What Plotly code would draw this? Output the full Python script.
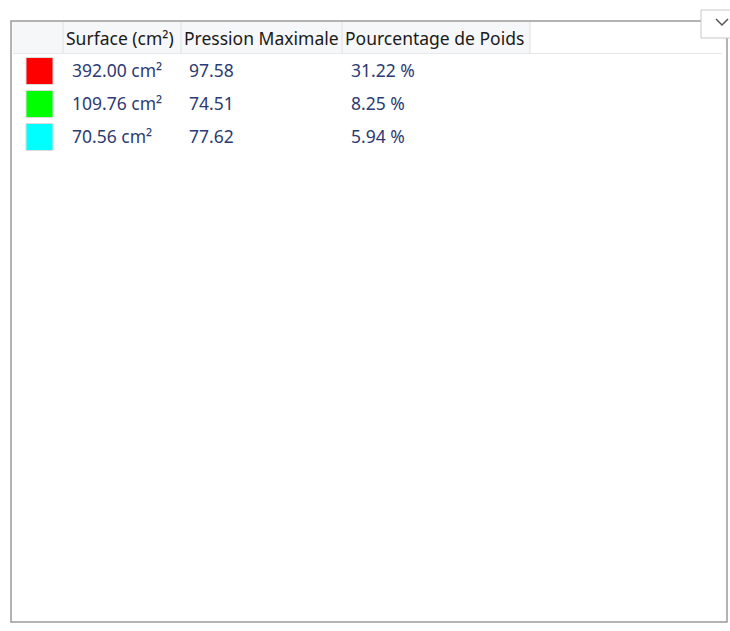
import plotly.graph_objects as go

headers = ["", "Surface (cm²)", "Pression Maximale", "Pourcentage de Poids"]
colors = ["#ff0000", "#00ff00", "#00ffff"]
surface = ["392.00 cm²", "109.76 cm²", "70.56 cm²"]
pression = ["97.58", "74.51", "77.62"]
pourcentage = ["31.22 %", "8.25 %", "5.94 %"]

W, H = 730, 631
FONT = "Noto Sans"

# column layout (pixels)
col_edges = [13, 63, 181, 342, 530]
text_x = [None, 72, 189, 351]
head_x = [None, 66, 184, 345]
row_y0, row_h = 73, 33
rows_y = [row_y0 + i * row_h for i in range(len(colors))]

fig = go.Figure()

# swatches
fig.add_trace(go.Scatter(
    x=[39.5] * len(colors), y=[y - 2 for y in rows_y], mode="markers",
    marker=dict(symbol="square", size=27, color=colors, line=dict(width=1, color="#dddddd")),
    hoverinfo="skip", showlegend=False))

# cell text
for col, vals in zip([1, 2, 3], [surface, pression, pourcentage]):
    fig.add_trace(go.Scatter(
        x=[text_x[col]] * len(vals), y=rows_y, mode="text", text=vals,
        textposition="middle right",
        textfont=dict(family=FONT, size=17.5, color="#2c3b72"),
        hoverinfo="skip", showlegend=False))

# header text
fig.add_trace(go.Scatter(
    x=head_x[1:], y=[41] * 3, mode="text", text=headers[1:],
    textposition="middle right",
    textfont=dict(family=FONT, size=17.5, color="#1a1a1a"),
    hoverinfo="skip", showlegend=False))

shapes = []
# outer frame
shapes.append(dict(type="rect", x0=11, x1=727, y0=21, y1=622, line=dict(color="#9a9a9a", width=1.5),
                   fillcolor="white", layer="below"))
# header background
shapes.append(dict(type="rect", x0=12.5, x1=col_edges[-1], y0=22, y1=53, line=dict(width=0),
                   fillcolor="#f6f7f8", layer="below"))
# header separators
for xe in col_edges[1:]:
    shapes.append(dict(type="line", x0=xe, x1=xe, y0=22, y1=53, line=dict(color="#e3e5e8", width=1.2)))
# line under header
shapes.append(dict(type="line", x0=13, x1=722, y0=53.5, y1=53.5, line=dict(color="#e6e8eb", width=1.2)))
# dropdown button at top right
shapes.append(dict(type="rect", x0=701, x1=745, y0=10, y1=38, line=dict(color="#c8c8c8", width=1),
                   fillcolor="white"))
shapes.append(dict(type="path", path="M 716 19 L 722 25 L 728 19", line=dict(color="#555555", width=1.5)))

fig.update_layout(
    width=W, height=H, margin=dict(l=0, r=0, t=0, b=0),
    paper_bgcolor="white", plot_bgcolor="white",
    xaxis=dict(range=[0, W], visible=False, fixedrange=True),
    yaxis=dict(range=[H, 0], visible=False, fixedrange=True),
    shapes=shapes,
)

fig.write_html("out.html", config={"displayModeBar": False},
               post_script="document.body.style.margin='0';document.body.style.overflow='hidden';")
